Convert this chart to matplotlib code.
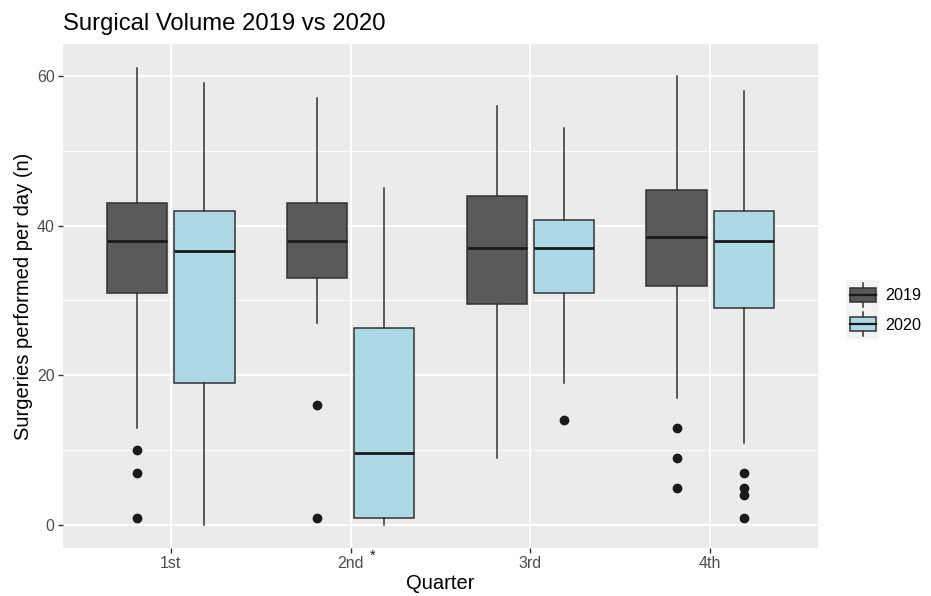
import numpy as np
import matplotlib.pyplot as plt
from matplotlib.patches import Rectangle

plt.rcParams['font.family'] = ['Liberation Sans', 'DejaVu Sans']

quarters = ["1st", "2nd", "3rd", "4th"]
years = ["2019", "2020"]

# five-number summaries per quarter, surgeries per day
whislo_2019 = [13, 27, 9, 17]
q1_2019 = [31, 33, 29.5, 32]
med_2019 = [38, 38, 37, 38.5]
q3_2019 = [43, 43, 44, 44.7]
whishi_2019 = [61, 57, 56, 60]
fliers_2019 = [[10, 7, 1], [16, 1], [], [13, 9, 5]]

whislo_2020 = [0, 0, 19, 11]
q1_2020 = [19, 1, 31, 29]
med_2020 = [36.6, 9.6, 37, 38]
q3_2020 = [42, 26.3, 40.7, 42]
whishi_2020 = [59, 45, 53, 58]
fliers_2020 = [[], [], [14], [7, 5, 4, 1]]

colors = {"2019": "#595959", "2020": "#ADD8E6"}
EDGE = "#333333"
PANEL = "#EBEBEB"


def make_stats(lo, q1, med, q3, hi, fl):
    return [dict(whislo=a, q1=b, med=c, q3=d, whishi=e, fliers=f)
            for a, b, c, d, e, f in zip(lo, q1, med, q3, hi, fl)]


stats = {
    "2019": make_stats(whislo_2019, q1_2019, med_2019, q3_2019, whishi_2019, fliers_2019),
    "2020": make_stats(whislo_2020, q1_2020, med_2020, q3_2020, whishi_2020, fliers_2020),
}

W, H = 931, 596
fig = plt.figure(figsize=(W / 100, H / 100), dpi=100)
ax = fig.add_axes([63 / W, 1 - 548 / H, (818 - 63) / W, (548 - 44) / H])
ax.set_facecolor(PANEL)

x = np.arange(1, len(quarters) + 1)
offset = 0.187
for i, yr in enumerate(years):
    pos = x + (offset if i else -offset)
    ax.bxp(stats[yr], positions=pos, widths=0.335, patch_artist=True,
           showcaps=False, manage_ticks=False,
           boxprops=dict(facecolor=colors[yr], edgecolor=EDGE, linewidth=1.1),
           whiskerprops=dict(color=EDGE, linewidth=1.1),
           medianprops=dict(color="#1a1a1a", linewidth=2.0, solid_capstyle="butt"),
           flierprops=dict(marker="o", markerfacecolor="#1a1a1a",
                           markeredgecolor="#1a1a1a", markersize=6))

ax.set_xlim(0.4, 4.6)
ax.set_ylim(-3.06, 64.26)
ax.set_xticks(x)
ax.set_xticklabels(quarters)
ax.set_yticks([0, 20, 40, 60])
ax.set_yticks([10, 30, 50], minor=True)
ax.grid(True, which="major", color="white", linewidth=1.4)
ax.grid(True, which="minor", axis="y", color="white", linewidth=0.7)
ax.set_axisbelow(True)
for s in ax.spines.values():
    s.set_visible(False)
ax.tick_params(which="major", length=3.5, width=1.0, color="#333333",
               labelsize=11.5, labelcolor="#4D4D4D", pad=2.5)
ax.tick_params(which="minor", length=0)

ax.set_xlabel("Quarter", fontsize=14.5, color="black", labelpad=2)
ax.set_ylabel("Surgeries performed per day (n)", fontsize=14.5, color="black", labelpad=3)
fig.text(63 / W, 1 - 24 / H, "Surgical Volume 2019 vs 2020", fontsize=17.2,
         ha="left", va="center")

# significance mark next to the 2nd quarter label
ax.annotate("*", xy=(2, 0), xycoords=("data", "axes fraction"),
            xytext=(13.5, -0.5), textcoords="offset points",
            ha="left", va="top", fontsize=10.5, color="#1a1a1a")

# legend keys drawn as small boxplot glyphs
lax = fig.add_axes([847 / W, 1 - 339 / H, 32 / W, 59 / H])
lax.set_xlim(0, 1)
lax.set_ylim(0, 2)
lax.axis("off")
for k, yr in enumerate(years):
    base = 1 - k
    lax.add_patch(Rectangle((0, base), 1, 1, facecolor="#F2F2F2", edgecolor="none"))
    lax.plot([0.5, 0.5], [base + 0.1, base + 0.27], color=EDGE, lw=1.1)
    lax.plot([0.5, 0.5], [base + 0.73, base + 0.9], color=EDGE, lw=1.1)
    lax.add_patch(Rectangle((0.1, base + 0.27), 0.8, 0.46, facecolor=colors[yr],
                            edgecolor=EDGE, linewidth=1.1))
    lax.plot([0.1, 0.9], [base + 0.5, base + 0.5], color="#1a1a1a", lw=1.6)
    fig.text(885 / W, 1 - (296 + 29 * k) / H, yr, fontsize=11.6,
             ha="left", va="center")

fig.savefig("out.png", dpi=100)
